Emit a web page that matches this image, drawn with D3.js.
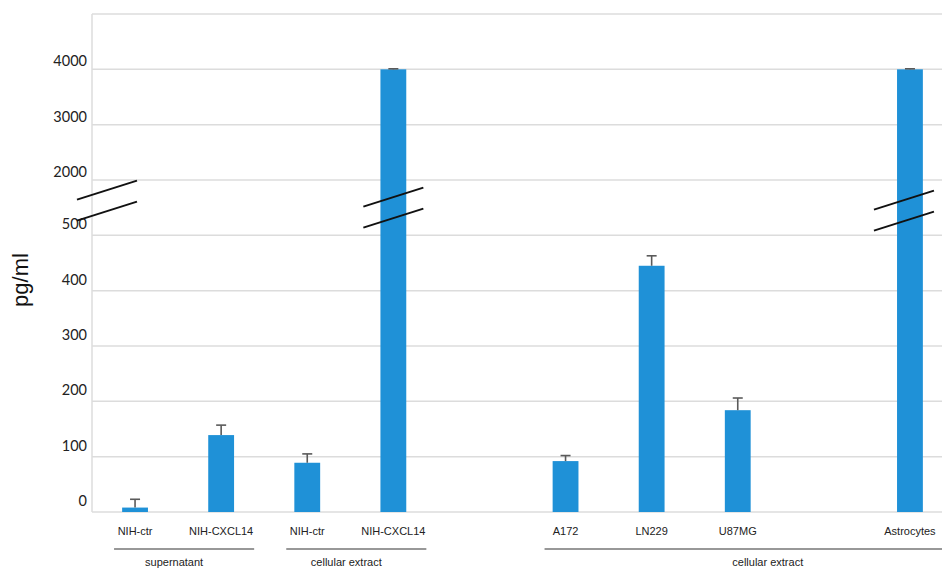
<!DOCTYPE html>
<html>
<head>
<meta charset="utf-8">
<script src="https://cdn.jsdelivr.net/npm/d3@7"></script>
<style>
  html, body { margin: 0; padding: 0; background: #fff; overflow: hidden; }
  svg { display: block; }
  svg text { font-family: Arial, "Liberation Sans", sans-serif; }
  svg text.tick { font-family: Lato, "Open Sans", sans-serif; }
</style>
</head>
<body>
<svg id="chart" width="942" height="574"></svg>
<script>
// null entries are empty slots on the x axis
const categories = ['NIH-ctr', 'NIH-CXCL14', 'NIH-ctr', 'NIH-CXCL14', null, 'A172', 'LN229', 'U87MG', null, 'Astrocytes'];
const values = [8, 139, 89, 4000, null, 92, 445, 184, null, 4000];
const errors = [15, 18, 16, 10, null, 10, 18, 22, null, 10];

const groupNames = ['supernatant', 'cellular extract', 'cellular extract'];
const groupFirst = [0, 2, 5];
const groupLast = [1, 3, 9];

const tickValues = [0, 100, 200, 300, 400, 500, 2000, 3000, 4000];
const gridValues = [0, 100, 200, 300, 400, 500, 2000, 3000, 4000, 5000];
// broken axis: 0-500 below the break, 2000-5000 above it
const yBreaks = [0, 500, 2000, 5000];

const svg = d3.select('#chart');
const width = +svg.attr('width');
const height = +svg.attr('height');
const margin = {top: 14, right: -11, bottom: 62, left: 92};
const innerHeight = height - margin.top - margin.bottom;

const stepPx = innerHeight / 9;
const yScale = d3.scaleLinear()
    .domain(yBreaks)
    .range([height - margin.bottom, height - margin.bottom - 5 * stepPx,
            height - margin.bottom - 6 * stepPx, margin.top]);

const xScale = d3.scaleBand()
    .domain(d3.range(categories.length))
    .range([margin.left, width - margin.right])
    .paddingInner(0.7)
    .paddingOuter(0.35);

const cx = i => xScale(i) + xScale.bandwidth() / 2;

// gridlines
svg.append('g')
    .selectAll('line')
    .data(gridValues)
    .enter()
    .append('line')
    .attr('x1', margin.left)
    .attr('x2', width)
    .attr('y1', d => yScale(d))
    .attr('y2', d => yScale(d))
    .attr('stroke', '#dcdcdc')
    .attr('stroke-width', 1.5);

svg.append('line')
    .attr('x1', margin.left).attr('x2', margin.left)
    .attr('y1', yScale(5000)).attr('y2', yScale(0))
    .attr('stroke', '#dcdcdc')
    .attr('stroke-width', 1.5);

// y tick labels
svg.append('g')
    .selectAll('text')
    .data(tickValues)
    .enter()
    .append('text')
    .attr('class', 'tick')
    .attr('x', margin.left - 5)
    .attr('y', d => yScale(d) - (d < 2000 ? 6 : 3))
    .attr('text-anchor', 'end')
    .attr('font-size', 14.5)
    .attr('fill', '#222')
    .text(d => d);

svg.append('text')
    .attr('transform', 'translate(28,280) rotate(-90)')
    .attr('text-anchor', 'middle')
    .attr('font-size', 22)
    .attr('fill', '#111')
    .text('pg/ml');

const barData = categories.map((c, i) => ({i: i, name: c, value: values[i], err: errors[i]}))
    .filter(d => d.name !== null);

// bars
svg.append('g')
    .selectAll('rect')
    .data(barData)
    .enter()
    .append('rect')
    .attr('x', d => xScale(d.i))
    .attr('y', d => yScale(d.value))
    .attr('width', xScale.bandwidth())
    .attr('height', d => yScale(0) - yScale(d.value))
    .attr('fill', '#1f91d7');

// error bars
const eb = svg.append('g').attr('stroke', '#5a5a5a').attr('stroke-width', 1.6);
eb.selectAll('.stem')
    .data(barData)
    .enter()
    .append('line')
    .attr('x1', d => cx(d.i)).attr('x2', d => cx(d.i))
    .attr('y1', d => yScale(d.value))
    .attr('y2', d => yScale(d.value + d.err));
eb.selectAll('.cap')
    .data(barData)
    .enter()
    .append('line')
    .attr('x1', d => cx(d.i) - 5).attr('x2', d => cx(d.i) + 5)
    .attr('y1', d => yScale(d.value + d.err))
    .attr('y2', d => yScale(d.value + d.err));

// axis break marks
const gapMid = (yScale(500) + yScale(2000)) / 2;
const breakAt = [
    {x: margin.left + 15, dy: -7},
    {x: cx(3), dy: 0},
    {x: cx(9) - 6, dy: 3}
];
breakAt.forEach(b => {
    [-10.5, 10.5].forEach(off => {
        svg.append('line')
            .attr('x1', b.x - 30).attr('x2', b.x + 30)
            .attr('y1', gapMid + b.dy + off + 9.5)
            .attr('y2', gapMid + b.dy + off - 9.5)
            .attr('stroke', '#111')
            .attr('stroke-width', 2);
    });
});

// category labels
svg.append('g')
    .selectAll('text')
    .data(barData)
    .enter()
    .append('text')
    .attr('x', d => cx(d.i))
    .attr('y', 535)
    .attr('text-anchor', 'middle')
    .attr('font-size', 11)
    .attr('fill', '#222')
    .text(d => d.name);

// group underlines and labels
groupNames.forEach((g, k) => {
    const x1 = cx(groupFirst[k]) - 21;
    const x2 = cx(groupLast[k]) + 33;
    svg.append('line')
        .attr('x1', x1).attr('x2', x2)
        .attr('y1', 549).attr('y2', 549)
        .attr('stroke', '#333')
        .attr('stroke-width', 1.2);
    svg.append('text')
        .attr('x', (cx(groupFirst[k]) + cx(groupLast[k])) / 2 + (k === 2 ? 30 : -4))
        .attr('y', 566)
        .attr('text-anchor', 'middle')
        .attr('font-size', 11)
        .attr('fill', '#222')
        .text(g);
});
</script>
</body>
</html>
